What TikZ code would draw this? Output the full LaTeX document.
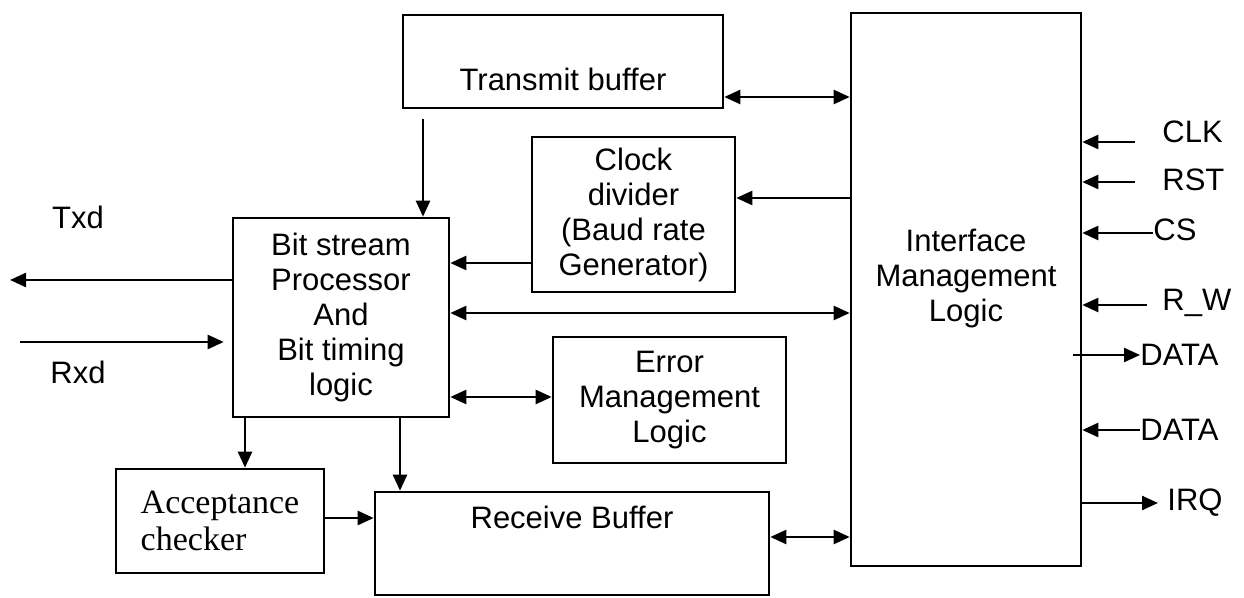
\documentclass[tikz,border=0pt]{standalone}
\usepackage{fontspec}
\setmainfont{Liberation Sans}
\newfontfamily\accfont{Liberation Serif}
\usetikzlibrary{arrows.meta}

\begin{document}
\begin{tikzpicture}[x=0.5pt,y=0.5pt]
\tikzstyle{every node}+=[inner sep=0pt, font=\fontsize{15.5}{17.5}\selectfont]
\tikzstyle{blk}=[draw=black, line width=1.3pt]
\tikzstyle{sig}=[black, line width=1.2pt, -{Triangle[length=8pt,width=7pt]}]
\tikzstyle{bisig}=[black, line width=1.2pt, {Triangle[length=8pt,width=7pt]}-{Triangle[length=8pt,width=7pt]}]
\useasboundingbox (0,0) rectangle (1244,-598);
\node [blk, minimum width=160pt, minimum height=46.5pt] (txbuf) at (563,-61.5) {};
\node (txbuftxt) at (563,-79) {Transmit buffer};
\node [blk, minimum width=101.5pt, minimum height=77.5pt, align=center] (clkdiv) at (633.5,-214.5) {Clock\\divider\\(Baud rate\\Generator)};
\node [blk, minimum width=108pt, minimum height=99.5pt, align=center] (bsp) at (341,-317.5) {Bit stream\\Processor\\And\\Bit timing\\logic};
\node [blk, minimum width=116.5pt, minimum height=63pt, align=center] (err) at (669.5,-400) {Error\\Management\\Logic};
\node [blk, minimum width=104pt, minimum height=52pt, align=left, font={\accfont\fontsize{17}{18.5}\selectfont}] (acc) at (220,-521) {Acceptance\\checker};
\node [blk, minimum width=197pt, minimum height=51.5pt] (rxbuf) at (572,-543.5) {};
\node (rxbuftxt) at (572,-517) {Receive Buffer};
\node [blk, minimum width=115pt, minimum height=276.5pt] (iml) at (966,-289.5) {};
\node [align=center] (imltxt) at (966,-279) {Interface\\Management\\Logic};
\node (txd) at (78,-217) {Txd};
\node (rxd) at (78,-372) {Rxd};
\node [anchor=west] (clk) at (1162,-132) {CLK};
\node [anchor=west] (rst) at (1162,-180) {RST};
\node [anchor=west] (cs) at (1153,-230) {CS};
\node [anchor=west] (rw) at (1162,-303) {R\_W};
\node [anchor=west] (dataout) at (1140,-355) {DATA};
\node [anchor=west] (datain) at (1140,-430) {DATA};
\node [anchor=west] (irq) at (1167,-503) {IRQ};
\coordinate (txdend) at (10,-280);
\coordinate (rxdbeg) at (20,-342);
\coordinate (clkin) at (1135,-142);
\coordinate (rstin) at (1135,-182);
\coordinate (csin) at (1153,-233);
\coordinate (rwin) at (1147,-305);
\coordinate (dout) at (1140,-355);
\coordinate (din) at (1140,-430);
\coordinate (irqout) at (1158,-503);
\draw [bisig] (txbuf.east |- 0,-97) -- (iml.west |- 0,-97);
\draw [sig, shorten <=5pt] (txbuf.south -| 423,0) -- (bsp.north -| 423,0);
\draw [sig] (iml.west |- 0,-198) -- (clkdiv.east |- 0,-198);
\draw [sig] (clkdiv.west |- 0,-263) -- (bsp.east |- 0,-263);
\draw [bisig] (bsp.east |- 0,-313) -- (iml.west |- 0,-313);
\draw [bisig] (bsp.east |- 0,-397) -- (err.west |- 0,-397);
\draw [sig] (bsp.west |- txdend) -- (txdend);
\draw [sig, shorten >=4pt] (rxdbeg) -- (bsp.west |- rxdbeg);
\draw [sig] (bsp.south -| 245,0) -- (acc.north -| 245,0);
\draw [sig] (bsp.south -| 400,0) -- (rxbuf.north -| 400,0);
\draw [sig] (acc.east |- 0,-518) -- (rxbuf.west |- 0,-518);
\draw [bisig] (rxbuf.east |- 0,-537) -- (iml.west |- 0,-537);
\draw [sig] (clkin) -- (iml.east |- clkin);
\draw [sig] (rstin) -- (iml.east |- rstin);
\draw [sig] (csin) -- (iml.east |- csin);
\draw [sig] (rwin) -- (iml.east |- rwin);
\draw [sig, shorten <=-4.5pt] (iml.east |- dout) -- (dout);
\draw [sig] (din) -- (iml.east |- din);
\draw [sig] (iml.east |- irqout) -- (irqout);
\end{tikzpicture}
\end{document}
